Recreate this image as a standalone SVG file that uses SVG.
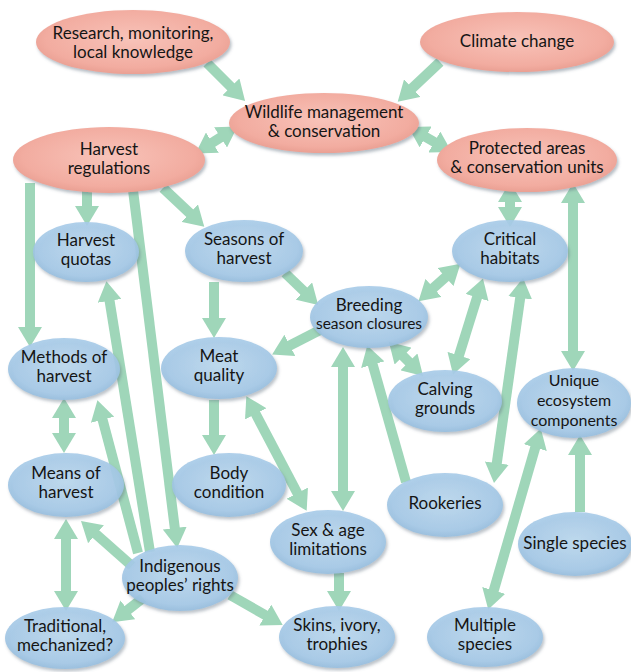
<svg xmlns="http://www.w3.org/2000/svg" width="631" height="672" viewBox="0 0 631 672">
<defs>
  <radialGradient id="gPink" cx="50%" cy="45%" r="60%">
    <stop offset="0" stop-color="#f8c3b9"/>
    <stop offset="0.75" stop-color="#f2aca0"/>
    <stop offset="1" stop-color="#e69a8d"/>
  </radialGradient>
  <radialGradient id="gBlue" cx="50%" cy="45%" r="60%">
    <stop offset="0" stop-color="#bcd9ef"/>
    <stop offset="0.75" stop-color="#a6cae8"/>
    <stop offset="1" stop-color="#8fb8da"/>
  </radialGradient>
  <filter id="sh" x="-10%" y="-15%" width="125%" height="140%">
    <feDropShadow dx="1.5" dy="2.5" stdDeviation="1.6" flood-color="#5a6a7a" flood-opacity="0.45"/>
  </filter>
  <marker id="ah" viewBox="-10 -12 20 24" refX="0" refY="0" markerWidth="20" markerHeight="24" markerUnits="userSpaceOnUse" orient="auto-start-reverse">
    <path d="M-10,-12 L10,0 L-10,12 Z" fill="#9fd6b9"/>
  </marker>
</defs>
<style>
  .c line { stroke: #9fd6b9; stroke-width: 10; fill: none; }
  .one { marker-end: url(#ah); }
  .two { marker-start: url(#ah); marker-end: url(#ah); }
  .pink ellipse { fill: url(#gPink); filter: url(#sh); }
  .blue ellipse { fill: url(#gBlue); filter: url(#sh); fill-opacity: 0.9; }
  text { font-family: Lato, "Open Sans", "Liberation Sans", sans-serif; font-size: 17px; fill: #151515; text-anchor: middle; }
  .sm { font-size: 15.5px; }
  .u { font-size: 16px; }
</style>
<rect width="631" height="672" fill="#ffffff"/>

<g id="connectors" class="c">
  <line class="one" x1="207" y1="63" x2="238" y2="94"/>
  <line class="one" x1="440" y1="62" x2="405" y2="95"/>
  <line class="two" x1="204" y1="148" x2="229" y2="132"/>
  <line class="two" x1="417" y1="132" x2="443" y2="147"/>
  <line class="one" x1="87" y1="190" x2="87" y2="216"/>
  <line class="one" x1="30" y1="183" x2="30" y2="337"/>
  <line class="one" x1="163" y1="188" x2="197" y2="220"/>
  <line class="one" x1="133" y1="190" x2="176" y2="538"/>
  <line class="one" x1="150" y1="552" x2="108" y2="291"/>
  <line class="one" x1="138" y1="553" x2="100" y2="410"/>
  <line class="two" x1="64" y1="408" x2="64" y2="443"/>
  <line class="two" x1="66" y1="529" x2="66" y2="601"/>
  <line class="one" x1="132" y1="566" x2="88.5" y2="527.6"/>
  <line class="one" x1="143" y1="598" x2="120" y2="616"/>
  <line class="one" x1="230" y1="595" x2="274" y2="620"/>
  <line class="one" x1="214" y1="282" x2="214" y2="328"/>
  <line class="one" x1="285" y1="273" x2="311" y2="298"/>
  <line class="one" x1="320" y1="330" x2="281" y2="350"/>
  <line class="one" x1="214" y1="400" x2="214" y2="445"/>
  <line class="two" x1="251" y1="405" x2="302" y2="502"/>
  <line class="two" x1="343" y1="357" x2="343" y2="501"/>
  <line class="one" x1="406" y1="482" x2="370" y2="355"/>
  <line class="two" x1="396" y1="349" x2="416" y2="369"/>
  <line class="two" x1="426" y1="294.5" x2="453" y2="270.5"/>
  <line class="two" x1="480" y1="288" x2="456" y2="365"/>
  <line class="two" x1="521.6" y1="288" x2="495.4" y2="473"/>
  <line class="two" x1="510" y1="192" x2="510" y2="217"/>
  <line class="two" x1="573" y1="193" x2="573" y2="361"/>
  <line class="two" x1="491" y1="600" x2="538" y2="438"/>
  <line class="one" x1="580" y1="512" x2="580" y2="445"/>
  <line class="one" x1="339" y1="573" x2="339" y2="601"/>
</g>

<g id="research" class="pink"><ellipse cx="133" cy="42" rx="97" ry="32"/><text x="133" y="39">Research, monitoring,</text><text x="133" y="58">local knowledge</text></g>
<g id="climate" class="pink"><ellipse cx="517" cy="42" rx="97" ry="30"/><text x="517" y="47">Climate change</text></g>
<g id="wildlife" class="pink"><ellipse cx="324" cy="123" rx="95" ry="30"/><text x="324" y="118">Wildlife management</text><text x="324" y="137">&amp; conservation</text></g>
<g id="regulations" class="pink"><ellipse cx="109" cy="160" rx="96" ry="33"/><text x="109" y="155">Harvest</text><text x="109" y="174">regulations</text></g>
<g id="protected" class="pink"><ellipse cx="527" cy="160" rx="90" ry="32"/><text x="527" y="154">Protected areas</text><text x="527" y="173">&amp; conservation units</text></g>

<g id="quotas" class="blue"><ellipse cx="86" cy="252" rx="53" ry="30"/><text x="86" y="246">Harvest</text><text x="86" y="265">quotas</text></g>
<g id="seasons" class="blue"><ellipse cx="244" cy="251" rx="59" ry="31"/><text x="244" y="245">Seasons of</text><text x="244" y="264">harvest</text></g>
<g id="critical" class="blue"><ellipse cx="510" cy="251" rx="58" ry="31"/><text x="510" y="245">Critical</text><text x="510" y="264">habitats</text></g>
<g id="breeding" class="blue"><ellipse cx="369" cy="317" rx="59" ry="31"/><text x="369" y="311">Breeding</text><text class="sm" x="369" y="329">season closures</text></g>
<g id="methods" class="blue"><ellipse cx="64" cy="369" rx="56" ry="31"/><text x="64" y="363">Methods of</text><text x="64" y="382">harvest</text></g>
<g id="meat" class="blue"><ellipse cx="219" cy="368" rx="58" ry="31"/><text x="219" y="362">Meat</text><text x="219" y="381">quality</text></g>
<g id="calving" class="blue"><ellipse cx="445" cy="401" rx="57" ry="31"/><text x="445" y="395">Calving</text><text x="445" y="414">grounds</text></g>
<g id="unique" class="blue"><ellipse cx="574" cy="403" rx="57" ry="35"/><text class="u" x="574" y="386">Unique</text><text class="u" x="574" y="406">ecosystem</text><text class="u" x="574" y="426">components</text></g>
<g id="means" class="blue"><ellipse cx="66" cy="485" rx="58" ry="32"/><text x="66" y="479">Means of</text><text x="66" y="498">harvest</text></g>
<g id="body" class="blue"><ellipse cx="229" cy="485" rx="57" ry="32"/><text x="229" y="479">Body</text><text x="229" y="498">condition</text></g>
<g id="rookeries" class="blue"><ellipse cx="445" cy="505" rx="58" ry="32"/><text x="445" y="509">Rookeries</text></g>
<g id="sexage" class="blue"><ellipse cx="328" cy="542" rx="58" ry="32"/><text x="328" y="536">Sex &amp; age</text><text x="328" y="555">limitations</text></g>
<g id="single" class="blue"><ellipse cx="575" cy="544" rx="57" ry="32"/><text x="575" y="549">Single species</text></g>
<g id="indigenous" class="blue"><ellipse cx="180" cy="578" rx="58" ry="33"/><text x="180" y="572">Indigenous</text><text x="180" y="591">peoples’ rights</text></g>
<g id="traditional" class="blue"><ellipse cx="65" cy="638" rx="60" ry="31"/><text x="65" y="632">Traditional,</text><text x="65" y="651">mechanized?</text></g>
<g id="skins" class="blue"><ellipse cx="337" cy="637" rx="58" ry="31"/><text x="337" y="631">Skins, ivory,</text><text x="337" y="650">trophies</text></g>
<g id="multiple" class="blue"><ellipse cx="485" cy="637" rx="58" ry="30"/><text x="485" y="631">Multiple</text><text x="485" y="650">species</text></g>
</svg>
